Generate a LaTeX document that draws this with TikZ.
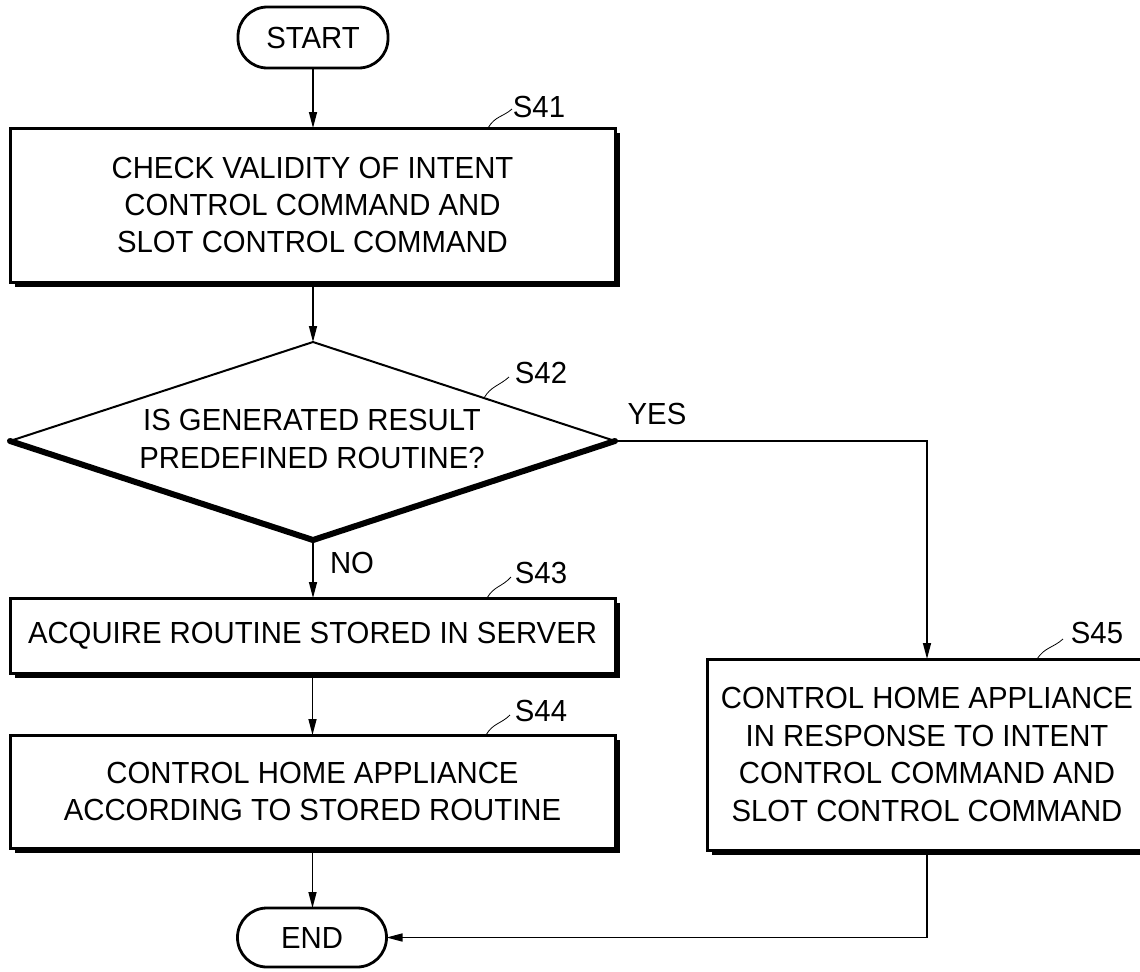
\documentclass[tikz,border=0pt]{standalone}
\usepackage{fontspec}
\setmainfont{Liberation Sans}[FakeStretch=0.96]
\usetikzlibrary{arrows.meta,shadows}

\begin{document}
\begin{tikzpicture}[x=0.75pt,y=-0.75pt,
  every node/.style={font=\fontsize{22.9pt}{28.1pt}\selectfont, align=center, inner sep=0pt, outer sep=0pt},
  stepbox/.style={draw, line width=2.25pt, fill=white,
    drop shadow={shadow xshift=3.4pt, shadow yshift=-3.4pt, fill=black, opacity=1}},
  term/.style={draw, line width=2.1pt, rounded corners=22pt, fill=white},
  arr/.style={line width=1.1pt, -{Triangle[length=12pt,width=6pt]}},
  lead/.style={line width=0.6pt},
  thinedge/.style={line width=1.5pt, line cap=round, line join=round},
  thickedge/.style={line width=4.5pt, line cap=round, line join=round}]

\useasboundingbox (0,0) rectangle (1140,972);

% terminals
\node[term, minimum width=112.5pt, minimum height=45.75pt] (start) at (313,37.5) {START};
\node[term, minimum width=111.75pt, minimum height=44.25pt] (end) at (312,937.5) {END};

% process steps
\node[stepbox, minimum width=453.75pt, minimum height=115.5pt] (s41) at (312.5,205)
  {CHECK VALIDITY OF INTENT\\CONTROL COMMAND AND\\SLOT CONTROL COMMAND};
\node[stepbox, minimum width=453.75pt, minimum height=56.25pt] (s43) at (312.5,635.5)
  {ACQUIRE ROUTINE STORED IN SERVER};
\node[stepbox, minimum width=453.75pt, minimum height=84.75pt] (s44) at (312.5,791.5)
  {CONTROL HOME APPLIANCE\\ACCORDING TO STORED ROUTINE};
\node[stepbox, minimum width=330pt, minimum height=143.25pt] (s45) at (927,754.5)
  {CONTROL HOME APPLIANCE\\IN RESPONSE TO INTENT\\CONTROL COMMAND AND\\SLOT CONTROL COMMAND};

% decision S42
\coordinate (qT) at (313,342);
\coordinate (qL) at (10,441);
\coordinate (qR) at (615,441);
\coordinate (qB) at (313,540);
\draw[thickedge] (qL) -- (qB) -- (qR);
\draw[thinedge] (qL) -- (qT) -- (qR);
\node (q) at (312,439) {IS GENERATED RESULT\\PREDEFINED ROUTINE?};

% branch labels
\node (yes) at (657,414) {YES};
\node (no) at (352,563) {NO};

% step labels with leaders
\node (l41) at (539,107) {S41};
\node (l42) at (541,373) {S42};
\node (l43) at (541,573) {S43};
\node (l44) at (541,711) {S44};
\node (l45) at (1097,633) {S45};
\coordinate (a41) at (488,128);
\coordinate (a42) at (484,398);
\coordinate (a43) at (487,598);
\coordinate (a44) at (486,735);
\coordinate (a45) at (1037,659);
\draw[lead] (a41) .. controls (495,116) and (503,117) .. (512,109);
\draw[lead] (a42) .. controls (491,386) and (499,386) .. (509,377);
\draw[lead] (a43) .. controls (494,586) and (502,587) .. (511,577);
\draw[lead] (a44) .. controls (493,723) and (501,724) .. (510,715);
\draw[lead] (a45) .. controls (1045,647) and (1053,648) .. (1063,639);

% connectors
\draw[arr] (start.south) -- (start.south |- s41.north);
\draw[arr] (s41.south -| qT) -- (qT);
\draw[arr] (qB) -- (qB |- s43.north);
\draw[arr] (s43.south) -- (s44.north);
\draw[arr] (s44.south) -- (s44.south |- end.north);
\draw[arr] (qR) -| (s45.north);
\draw[arr] (s45.south) |- (end.east);

\end{tikzpicture}
\end{document}
